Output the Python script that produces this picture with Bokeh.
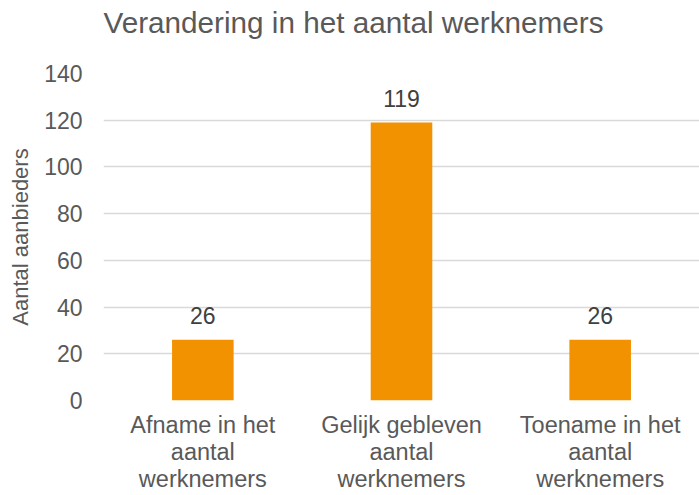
from bokeh.plotting import figure
from bokeh.models import ColumnDataSource, Range1d, FactorRange, SingleIntervalTicker, LabelSet
from bokeh.core.properties import value
from bokeh.embed import file_html
from bokeh.resources import INLINE

categories = ["Afname in het\naantal\nwerknemers", "Gelijk gebleven\naantal\nwerknemers", "Toename in het\naantal\nwerknemers"]
values = [26, 119, 26]
labels = ["26", "119", "26"]

src = ColumnDataSource(dict(cat=categories, val=values, lab=labels))

FONT = "Liberation Sans"
GREY = "#595959"

p = figure(width=699, height=495, x_range=FactorRange(*categories, range_padding=0),
           y_range=Range1d(0, 140), output_backend="svg", toolbar_location=None,
           min_border_left=103, min_border_right=0, min_border_top=73, min_border_bottom=94)

p.vbar(x="cat", top="val", width=0.31, source=src, color="#F39200", line_color=None)

p.add_layout(LabelSet(x="cat", y="val", text="lab", source=src, y_offset=16,
                      text_align="center", text_baseline="alphabetic", text_font=value(FONT),
                      text_font_size="23px", text_color="#404040"))

# trailing newline lifts the title away from the plot area
p.title.text = "Verandering in het aantal werknemers\n"
p.title.text_font = FONT
p.title.text_font_size = "29.7px"
p.title.text_font_style = "normal"
p.title.text_color = GREY
p.title.text_line_height = 1.0
p.title.offset = 0
p.title.standoff = 4

p.yaxis.ticker = SingleIntervalTicker(interval=20)
p.yaxis.axis_label = "Aantal aanbieders"
p.yaxis.axis_label_text_font = FONT
p.yaxis.axis_label_text_font_size = "22px"
p.yaxis.axis_label_text_font_style = "normal"
p.yaxis.axis_label_text_color = GREY
p.yaxis.axis_label_standoff = 8

for ax in (p.xaxis, p.yaxis):
    ax.axis_line_color = None
    ax.major_tick_line_color = None
    ax.minor_tick_line_color = None
    ax.major_label_text_font = FONT
    ax.major_label_text_color = GREY

p.yaxis.major_label_text_font_size = "23px"
p.yaxis.major_label_standoff = 15
p.xaxis.major_label_text_font_size = "23.5px"
p.xaxis.major_label_standoff = 5
p.xaxis.major_label_text_line_height = 1.05

p.xgrid.grid_line_color = None
p.ygrid.grid_line_color = "#D9D9D9"
p.ygrid.grid_line_width = 1.5
p.outline_line_color = None

open("out.html", "w").write(file_html(p, INLINE))
